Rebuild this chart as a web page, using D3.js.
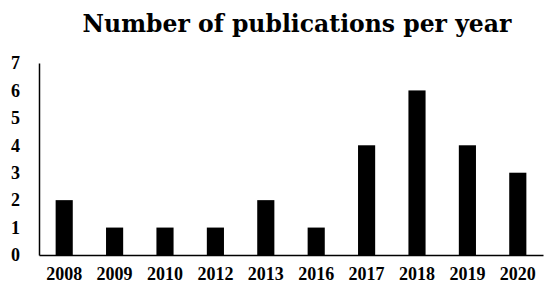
<!DOCTYPE html>
<html>
<head>
<meta charset="utf-8">
<script src="https://cdn.jsdelivr.net/npm/d3@7"></script>
<style>
  body { margin: 0; background: #fff; }
  text { font-family: "Liberation Serif", "DejaVu Serif", serif; }
</style>
</head>
<body>
<svg width="550" height="298"></svg>
<script>
// data
const years = ["2008", "2009", "2010", "2012", "2013", "2016", "2017", "2018", "2019", "2020"];
const counts = [2, 1, 1, 1, 2, 1, 4, 6, 4, 3];
const yTicks = [0, 1, 2, 3, 4, 5, 6, 7];

const svg = d3.select("svg");
const margin = { top: 63, right: 7, bottom: 43, left: 39 };
const width = 550 - margin.left - margin.right;
const height = 298 - margin.top - margin.bottom;

const x = d3.scaleBand().domain(years).range([0, width]).paddingInner(0.66).paddingOuter(0.33);
const y = d3.scaleLinear().domain([0, 7]).range([height, 0]);

const g = svg.append("g").attr("transform", `translate(${margin.left},${margin.top})`);

// title
svg.append("text")
  .attr("x", 297)
  .attr("y", 32)
  .attr("text-anchor", "middle")
  .style("font-family", "DejaVu Serif, serif")
  .style("font-size", "23.5px")
  .style("font-weight", "bold")
  .text("Number of publications per year");

// bars
g.selectAll("rect")
  .data(years)
  .enter()
  .append("rect")
  .attr("x", d => x(d))
  .attr("width", x.bandwidth())
  .attr("y", (d, i) => y(counts[i]))
  .attr("height", (d, i) => y(0) - y(counts[i]))
  .attr("fill", "#000");

// y axis
const yAxis = g.append("g")
  .call(d3.axisLeft(y).tickValues(yTicks).tickFormat(d3.format("d")).tickSize(0).tickPadding(19));
yAxis.select(".domain").attr("stroke", "#000").attr("stroke-width", 1.5);
yAxis.selectAll("text")
  .style("font-family", "Liberation Serif, serif")
  .style("font-size", "18px")
  .style("font-weight", "bold")
  .attr("fill", "#000");

// x axis
const xAxis = g.append("g")
  .attr("transform", `translate(0,${height})`)
  .call(d3.axisBottom(x).tickSize(0).tickPadding(12));
xAxis.select(".domain").attr("stroke", "#000").attr("stroke-width", 1.5);
xAxis.selectAll("text")
  .style("font-family", "Liberation Serif, serif")
  .style("font-size", "18px")
  .style("font-weight", "bold")
  .attr("fill", "#000");
</script>
</body>
</html>
